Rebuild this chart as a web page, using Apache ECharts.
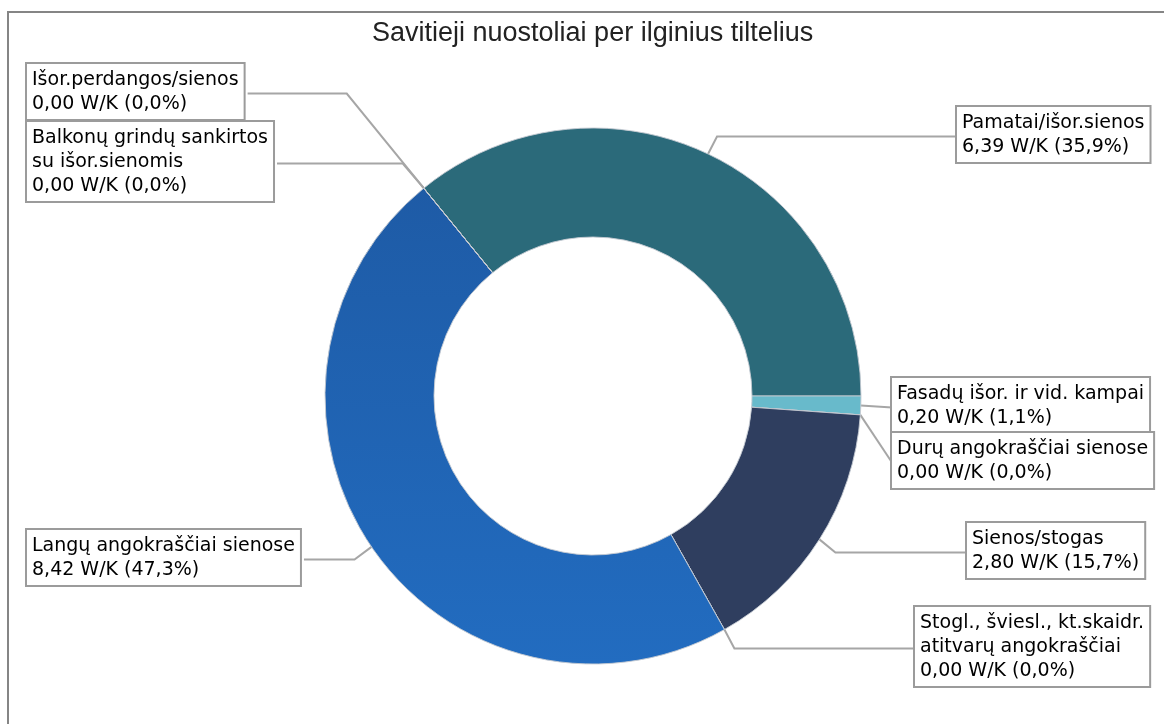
<!DOCTYPE html>
<html>
<head>
<meta charset="utf-8">
<script src="https://cdn.jsdelivr.net/npm/echarts@6/dist/echarts.min.js"></script>
<style>
  html, body { margin: 0; padding: 0; background: #ffffff; }
  #chart { width: 1164px; height: 724px; }
</style>
</head>
<body>
<div id="chart"></div>
<script>
// Thermal bridge categories, in drawing order (clockwise)
const categories = [
  'Pamatai/išor.sienos',
  'Fasadų išor. ir vid. kampai',
  'Durų angokraščiai sienose',
  'Sienos/stogas',
  'Stogl., šviesl., kt.skaidr.\natitvarų angokraščiai',
  'Langų angokraščiai sienose',
  'Išor.perdangos/sienos',
  'Balkonų grindų sankirtos\nsu išor.sienomis'
];

// Specific heat losses, W/K
const values = [6.39, 0.20, 0.00, 2.80, 0.00, 8.42, 0.00, 0.00];

const unit = 'W/K';

// Slice fills
const sliceColors = [
  '#2b6a7a',
  '#68bacb',
  '#6f8fb8',
  '#2f3e5f',
  '#2a64b0',
  { type: 'linear', x: 0, y: 0, x2: 0, y2: 1,
    colorStops: [{ offset: 0, color: '#1e5ba6' }, { offset: 1, color: '#226cc0' }] },
  '#2a6a7a',
  '#2a6a7a'
];

// Callout boxes: top-left corner, which side of the ring, and leader elbow offset
const callouts = [
  { x: 957, y: 107, side: 'right', elbow: 9 },
  { x: 892, y: 378, side: 'right', elbow: null },
  { x: 892, y: 433, side: 'right', elbow: null },
  { x: 967, y: 523, side: 'right', elbow: 16 },
  { x: 915, y: 607, side: 'right', elbow: 10 },
  { x: 27,  y: 530, side: 'left',  elbow: -17 },
  { x: 27,  y: 64,  side: 'left',  elbow: -77 },
  { x: 27,  y: 122, side: 'left',  elbow: -21 }
];

const total = values.reduce((a, b) => a + b, 0);
const fmt = (n, d) => n.toFixed(d).replace('.', ',');

const seriesData = categories.map((name, i) => ({
  name: name,
  value: values[i],
  itemStyle: { color: sliceColors[i] }
}));

const chart = echarts.init(document.getElementById('chart'), null, { renderer: 'canvas' });

chart.setOption({
  animation: false,
  backgroundColor: '#ffffff',
  title: {
    text: 'Savitieji nuostoliai per ilginius tiltelius',
    left: 367,
    top: 15,
    textStyle: {
      fontFamily: 'Liberation Sans, Arial',
      fontSize: 27,
      fontWeight: 'normal',
      color: '#222222'
    }
  },
  graphic: [{
    type: 'polyline',
    silent: true,
    shape: { points: [[8, 724], [8, 12], [1164, 12]] },
    style: { stroke: '#858585', lineWidth: 2, fill: null }
  }],
  series: [{
    type: 'pie',
    center: [593, 396],
    radius: [159, 268],
    startAngle: 360 * values[0] / total,
    clockwise: true,
    avoidLabelOverlap: false,
    minShowLabelAngle: 0,
    itemStyle: { borderColor: 'rgba(196,202,210,0.9)', borderWidth: 1 },
    label: {
      show: true,
      position: 'outside',
      formatter: p => p.name + '\n' + fmt(p.value, 2) + ' ' + unit + ' (' + fmt(p.value / total * 100, 1) + '%)',
      fontFamily: 'DejaVu Sans',
      fontSize: 19,
      lineHeight: 24,
      color: '#000000',
      backgroundColor: '#ffffff',
      borderColor: '#9b9b9b',
      borderWidth: 2,
      padding: [4, 5, 3, 5]
    },
    labelLine: {
      show: true,
      length: 20,
      length2: 20,
      lineStyle: { color: '#a6a6a6', width: 2 }
    },
    labelLayout: function (params) {
      const c = callouts[params.dataIndex];
      const r = params.labelRect;
      const anchor = params.labelLinePoints[0];
      const midY = c.y + r.height / 2;
      const edgeX = c.side === 'right' ? c.x : c.x + r.width;
      const pts = c.elbow == null
        ? [anchor, [edgeX, midY]]
        : [anchor, [anchor[0] + c.elbow, midY], [edgeX, midY]];
      return {
        x: c.x,
        y: c.y,
        align: 'left',
        verticalAlign: 'top',
        hideOverlap: false,
        labelLinePoints: pts
      };
    },
    data: seriesData
  }]
});
</script>
</body>
</html>
